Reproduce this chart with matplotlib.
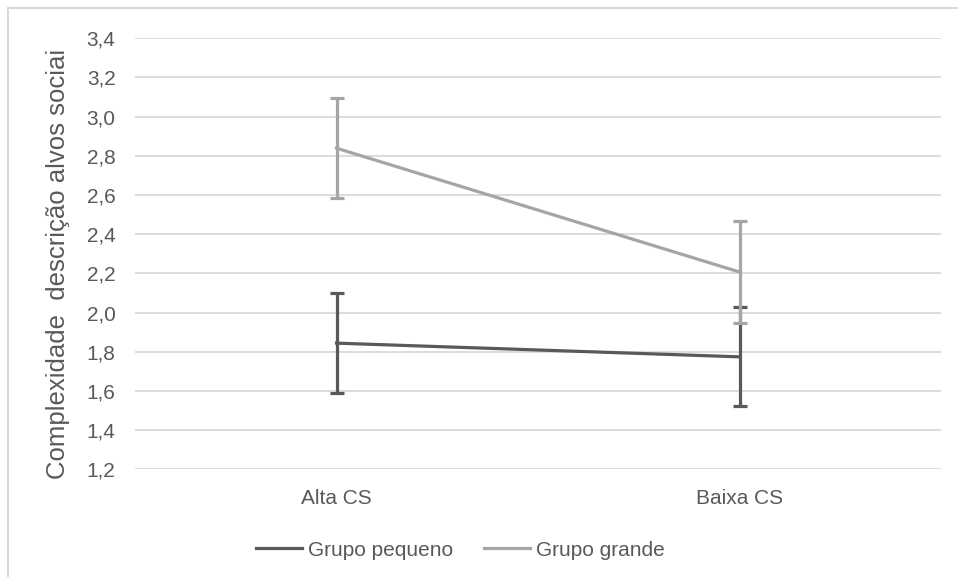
import matplotlib
matplotlib.use("Agg")
import matplotlib.pyplot as plt
from matplotlib.patches import Rectangle
from matplotlib.lines import Line2D

categories = ["Alta CS", "Baixa CS"]
pequeno = [1.844, 1.774]
pequeno_err = [0.256, 0.252]
grande = [2.839, 2.207]
grande_err = [0.255, 0.258]
yticks = [1.2, 1.4, 1.6, 1.8, 2.0, 2.2, 2.4, 2.6, 2.8, 3.0, 3.2, 3.4]
ylabel = "Complexidade  descrição alvos sociai"
series_names = ["Grupo pequeno", "Grupo grande"]

plt.rcParams['font.family'] = ['Liberation Sans', 'DejaVu Sans']
txt = '#595959'
dark = '#595959'
light = '#a5a5a5'

fig = plt.figure(figsize=(9.58, 5.77), dpi=100)
fig.patches.append(Rectangle((8/958, -0.1), 1.2, (577-8)/577 + 0.1, transform=fig.transFigure,
                             facecolor='none', edgecolor='#d9d9d9', lw=1.5))
ax = fig.add_axes([135/958, 1-469.3/577, (941-135)/958, (469.3-38.3)/577])

x = list(range(len(categories)))
ax.errorbar(x, pequeno, yerr=pequeno_err, color=dark, lw=2.3, elinewidth=2.3,
            capsize=4.7, capthick=2.3, zorder=3)
ax.errorbar(x, grande, yerr=grande_err, color=light, lw=2.3, elinewidth=2.3,
            capsize=4.7, capthick=2.3, zorder=4)

ax.set_xlim(-0.5, 1.5)
ax.set_ylim(1.2, 3.4)
ax.set_yticks(yticks)
ax.set_yticklabels([f"{v:.1f}".replace('.', ',') for v in yticks])
ax.set_xticks(x)
ax.set_xticklabels(categories)
ax.grid(axis='y', color='#d9d9d9', lw=1.3, zorder=0)
ax.set_axisbelow(True)
for s in ax.spines.values():
    s.set_visible(False)
ax.tick_params(axis='both', length=0, labelsize=15, colors=txt)
ax.tick_params(axis='y', pad=14)
ax.tick_params(axis='x', pad=14)

fig.text(58/958, 1-263.5/577, ylabel, rotation=90, ha='center', va='center',
         fontsize=18.5, color=txt)

handles = [Line2D([], [], color=dark, lw=2.3), Line2D([], [], color=light, lw=2.3)]
fig.legend(handles, series_names, loc='center', bbox_to_anchor=(460.5/958, 1-550/577), ncol=2,
           frameon=False, fontsize=15, handlelength=2.2, handletextpad=0.3, columnspacing=1.5,
           labelcolor=txt)

fig.savefig("out.png", dpi=100)
